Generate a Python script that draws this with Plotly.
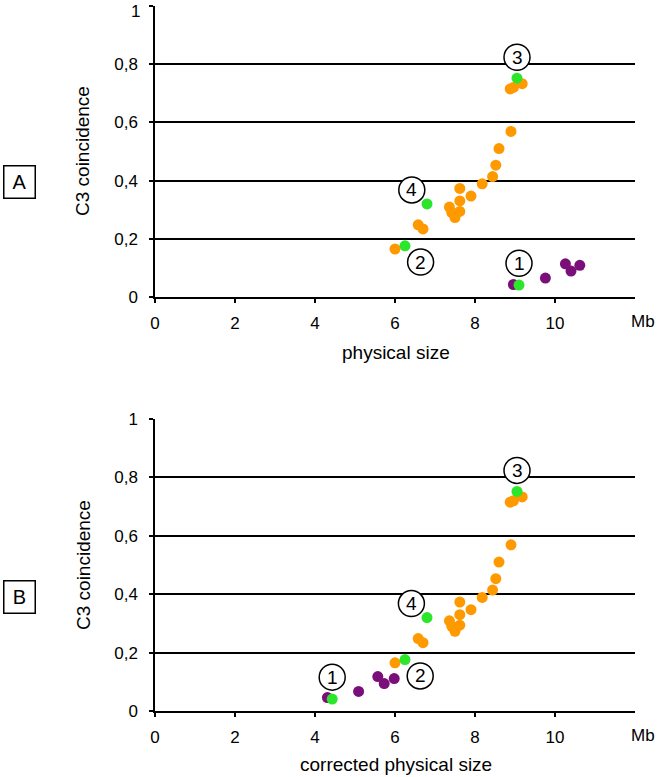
import plotly.graph_objects as go

# ---- data ----
orange_x = [6.0, 6.58, 6.70, 7.36, 7.42, 7.50, 7.62, 7.62, 7.62, 7.90, 8.18, 8.44, 8.52, 8.60, 8.90, 8.88, 8.96, 9.18]
orange_y = [0.165, 0.248, 0.234, 0.309, 0.290, 0.273, 0.294, 0.330, 0.373, 0.347, 0.389, 0.414, 0.453, 0.510, 0.569, 0.715, 0.720, 0.733]

green_a_x = [9.10, 6.25, 9.05, 6.80]
green_b_x = [4.43, 6.25, 9.05, 6.80]
green_y = [0.041, 0.176, 0.752, 0.320]

purple_a_x = [8.96, 9.76, 10.26, 10.40, 10.62]
purple_a_y = [0.043, 0.065, 0.114, 0.089, 0.109]
purple_b_x = [4.31, 5.09, 5.57, 5.73, 5.98]
purple_b_y = [0.046, 0.067, 0.118, 0.094, 0.111]

label_text = ["1", "2", "3", "4"]
label_a_x = [9.10, 6.64, 9.05, 6.42]
label_b_x = [4.43, 6.63, 9.05, 6.41]
label_y = [0.116, 0.120, 0.824, 0.368]

x_ticks = [0, 2, 4, 6, 8, 10]
y_ticks = [0, 0.2, 0.4, 0.6, 0.8, 1]
y_ticktext = ["0", "0,2", "0,4", "0,6", "0,8", "1"]

ORANGE = "#FF9900"
GREEN = "#2BE62B"
PURPLE = "#7A0F7A"
FONT = "Liberation Sans, Arial, sans-serif"

W, H = 670, 777
L, R, T, B = 155, 35, 6, 66
PH = H - T - B

def py(p):
    return (H - B - p) / PH

def px(p):
    return (p - L) / (W - L - R)

fig = go.Figure()

panels = [
    ("x", "y", orange_x, orange_y, purple_a_x, purple_a_y, green_a_x, label_a_x),
    ("x2", "y2", orange_x, orange_y, purple_b_x, purple_b_y, green_b_x, label_b_x),
]

msize = 11
for xa, ya, ox, oy, pxs, pys, gx, lx in panels:
    fig.add_trace(go.Scatter(x=ox, y=oy, mode="markers", xaxis=xa, yaxis=ya,
                             marker=dict(color=ORANGE, size=msize, line=dict(width=0)),
                             showlegend=False, hoverinfo="skip"))
    fig.add_trace(go.Scatter(x=pxs, y=pys, mode="markers", xaxis=xa, yaxis=ya,
                             marker=dict(color=PURPLE, size=msize, line=dict(width=0)),
                             showlegend=False, hoverinfo="skip"))
    fig.add_trace(go.Scatter(x=gx, y=green_y, mode="markers", xaxis=xa, yaxis=ya,
                             marker=dict(color=GREEN, size=msize, line=dict(width=0)),
                             showlegend=False, hoverinfo="skip"))
    for t, xx, yy in zip(label_text, lx, label_y):
        fig.add_shape(type="circle", xref=xa, yref=ya, xsizemode="pixel", ysizemode="pixel",
                      xanchor=xx, yanchor=yy, x0=-13, x1=13, y0=-13, y1=13,
                      line=dict(color="black", width=1.5), fillcolor="white", layer="above")
        fig.add_annotation(x=xx, y=yy, xref=xa, yref=ya, text=t, showarrow=False,
                           font=dict(family=FONT, size=19, color="black"),
                           xanchor="center", yanchor="middle")

tick_font = dict(family=FONT, size=17, color="black")
axis_common = dict(showline=True, linecolor="black", linewidth=1.5, ticks="outside",
                   ticklen=4, tickwidth=1.5, tickcolor="black", zeroline=False,
                   automargin=False, tickfont=tick_font)

# top panel: the label of the topmost tick sits at the page edge, so it is drawn separately
top_ticktext = y_ticktext[:-1] + [""]

fig.update_layout(
    width=W, height=H,
    margin=dict(l=L, r=R, t=T, b=B, autoexpand=False),
    paper_bgcolor="white", plot_bgcolor="white",
    xaxis=dict(domain=[0, 1], anchor="y", range=[0, 12], tickvals=x_ticks,
               showgrid=False, ticklabelstandoff=6, **axis_common),
    yaxis=dict(domain=[py(297), 1], anchor="x", range=[0, 1], tickvals=y_ticks,
               ticktext=top_ticktext, showgrid=True, gridcolor="black", gridwidth=2,
               ticklabelstandoff=8, **axis_common),
    xaxis2=dict(domain=[0, 1], anchor="y2", range=[0, 12], tickvals=x_ticks,
                showgrid=False, ticklabelstandoff=6, **axis_common),
    yaxis2=dict(domain=[0, py(419)], anchor="x2", range=[0, 1], tickvals=y_ticks,
                ticktext=y_ticktext, showgrid=True, gridcolor="black", gridwidth=2,
                ticklabelstandoff=8, **axis_common),
)

fig.add_annotation(text=y_ticktext[-1], xref="paper", yref="paper", x=px(142), y=py(0),
                   xanchor="right", yanchor="top", showarrow=False, font=tick_font)

text_font = dict(family=FONT, size=19, color="black")
# axis titles and unit labels
fig.add_annotation(text="C3 coincidence", xref="paper", yref="paper", x=px(83), y=py(151),
                   textangle=-90, showarrow=False, font=text_font, xanchor="center", yanchor="middle")
fig.add_annotation(text="C3 coincidence", xref="paper", yref="paper", x=px(83), y=py(565),
                   textangle=-90, showarrow=False, font=text_font, xanchor="center", yanchor="middle")
fig.add_annotation(text="physical size", xref="paper", yref="paper", x=px(396), y=py(352),
                   showarrow=False, font=text_font, xanchor="center", yanchor="middle")
fig.add_annotation(text="corrected physical size", xref="paper", yref="paper", x=px(396), y=py(764),
                   showarrow=False, font=text_font, xanchor="center", yanchor="middle")
fig.add_annotation(text="Mb", xref="paper", yref="paper", x=px(643), y=py(321),
                   showarrow=False, font=tick_font, xanchor="center", yanchor="middle")
fig.add_annotation(text="Mb", xref="paper", yref="paper", x=px(643), y=py(735),
                   showarrow=False, font=tick_font, xanchor="center", yanchor="middle")
# panel letters
for letter, cy in (("A", 182), ("B", 597)):
    fig.add_annotation(text=letter, xref="paper", yref="paper", x=px(19), y=py(cy),
                       showarrow=False, font=dict(family=FONT, size=20, color="black"),
                       xanchor="center", yanchor="middle", width=30, height=31,
                       bordercolor="black", borderwidth=1.5, borderpad=0, bgcolor="white")

# remove the default 8px page margin so the figure sits at the window's top-left corner
fig.write_html("out.html",
               config={"displayModeBar": False},
               post_script="document.body.style.margin='0';document.body.style.padding='0';")
